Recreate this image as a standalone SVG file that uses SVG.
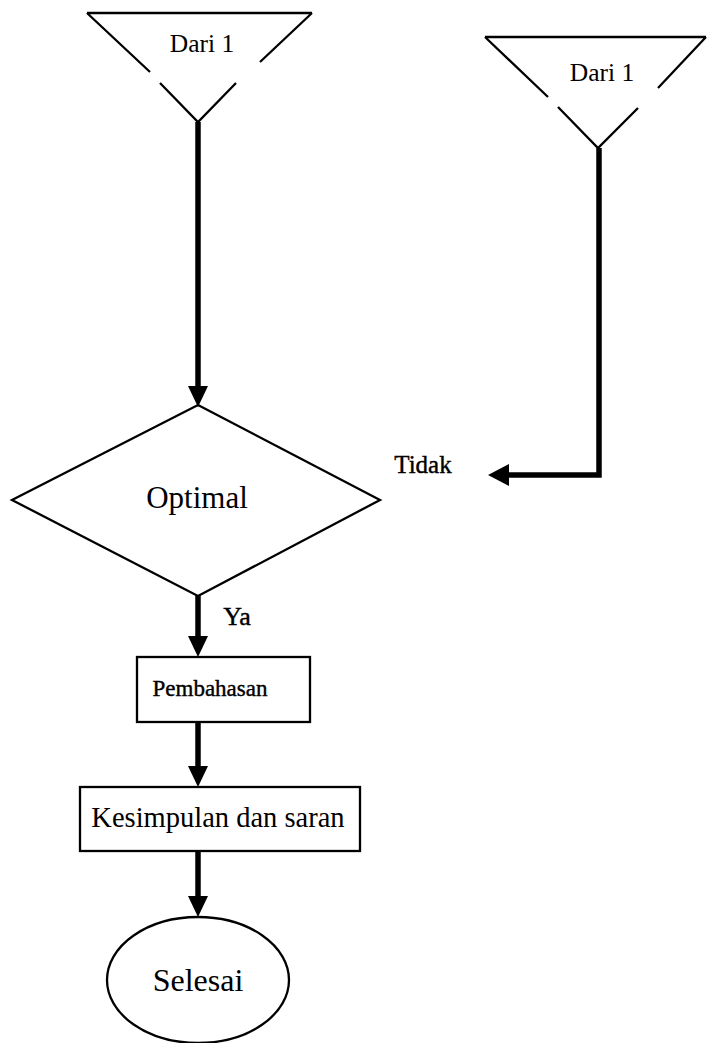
<svg xmlns="http://www.w3.org/2000/svg" width="709" height="1043" viewBox="0 0 709 1043">
<style>
.shape{fill:none;stroke:#000;stroke-width:2.3}
.conn{fill:none;stroke:#000;stroke-width:5.5}
.head{fill:#000;stroke:none}
text{font-family:"Liberation Serif","Times New Roman",serif;fill:#000;text-anchor:middle}
.lbl{stroke:#000;stroke-width:0.4}
</style>
<rect width="709" height="1043" fill="#fff"/>
<g id="connectors">
  <line class="conn" x1="198" y1="122" x2="198" y2="388"/>
  <polygon class="head" points="188,386 208,386 198,407"/>
  <polyline class="conn" points="599,148 599,475 507,475"/>
  <polygon class="head" points="509,464 509,486 488,475"/>
  <line class="conn" x1="198" y1="596" x2="198" y2="638"/>
  <polygon class="head" points="188,636 208,636 198,657"/>
  <line class="conn" x1="198" y1="722" x2="198" y2="768"/>
  <polygon class="head" points="188,766 208,766 198,787"/>
  <line class="conn" x1="198" y1="851" x2="198" y2="898"/>
  <polygon class="head" points="188,896 208,896 198,917"/>
  <text class="lbl" x="423" y="473" font-size="25">Tidak</text>
  <text class="lbl" x="237" y="625" font-size="26">Ya</text>
</g>
<g id="connector1">
  <path class="shape" d="M87,13 L312,13 M87,13 L150,72 M160,83 L198,122 L236,83 M260,62 L312,13"/>
  <text x="202" y="52" font-size="25.5">Dari 1</text>
</g>
<g id="connector2">
  <path class="shape" d="M485,37 L706,37 M485,37 L548,97 M558,107 L598,148 L638,108 M658,88 L706,37"/>
  <text x="602" y="81" font-size="25.5">Dari 1</text>
</g>
<g id="decision">
  <polygon class="shape" points="198,405 380,500 198,596 12,500"/>
  <text x="197" y="508" font-size="31">Optimal</text>
</g>
<g id="pembahasan">
  <rect class="shape" x="137" y="657" width="173" height="65"/>
  <text class="lbl" x="210" y="696" font-size="23">Pembahasan</text>
</g>
<g id="kesimpulan">
  <rect class="shape" x="80" y="787" width="280" height="64"/>
  <text x="218" y="827" font-size="28.5">Kesimpulan dan saran</text>
</g>
<g id="selesai">
  <ellipse class="shape" cx="198" cy="980" rx="91" ry="63"/>
  <text x="198" y="991" font-size="32">Selesai</text>
</g>
</svg>
